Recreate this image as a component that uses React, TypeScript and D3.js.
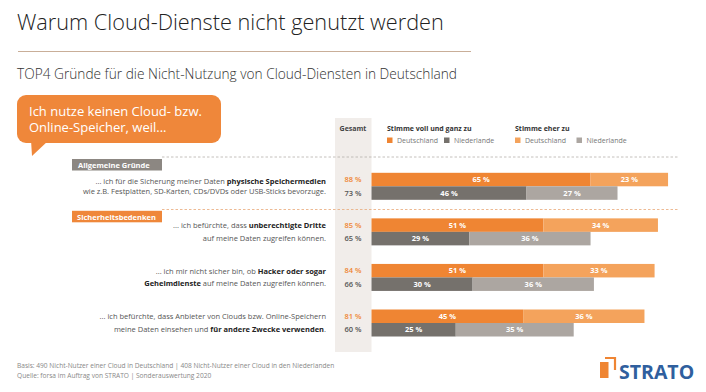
import React from "react";
import * as d3 from "d3";

const W = 706;
const H = 392;

const reasonLines: [string, boolean][][][] = [
  [
    [["... ich für die Sicherung meiner Daten ", false], ["physische Speichermedien", true]],
    [["wie z.B. Festplatten, SD-Karten, CDs/DVDs oder USB-Sticks bevorzuge.", false]],
  ],
  [
    [["... ich befürchte, dass ", false], ["unberechtigte Dritte", true]],
    [["auf meine Daten zugreifen können.", false]],
  ],
  [
    [["... ich mir nicht sicher bin, ob ", false], ["Hacker oder sogar", true]],
    [["Geheimdienste", true], [" auf meine Daten zugreifen können.", false]],
  ],
  [
    [["... ich befürchte, dass Anbieter von Clouds bzw. Online-Speichern", false]],
    [["meine Daten einsehen und ", false], ["für andere Zwecke verwenden", true], [".", false]],
  ],
];
const rowIds = ["speicher", "dritte", "hacker", "zwecke"];
const deVoll = [65, 51, 51, 45];
const deEher = [23, 34, 33, 36];
const nlVoll = [46, 29, 30, 25];
const nlEher = [27, 36, 36, 35];
const deTotal = [88, 85, 84, 81];
const nlTotal = [73, 65, 66, 60];

const C_DE1 = "#ef8533";
const C_DE2 = "#f4a35c";
const C_NL1 = "#75716c";
const C_NL2 = "#aca6a1";
const FONT = "'Open Sans', 'Noto Sans', sans-serif";

export default function App() {
  const x = d3.scaleLinear().domain([0, 100]).range([371.5, 708.5]);
  const y = d3.scalePoint<string>().domain(rowIds).range([186.3, 323]);
  const bh = 13.5;

  return (
    <svg
      width={W}
      height={H}
      style={{ position: "absolute", left: 0, top: 0, display: "block", background: "#fff" }}
      fontFamily={FONT}
    >
      <rect width={W} height={H} fill="#fff" />
      {/* Title */}
      <text x={17} y={30} fontSize={21.7} fill="#222" fontWeight={300}>
        Warum Cloud-Dienste nicht genutzt werden
      </text>
      <line x1={18} x2={471} y1={51.5} y2={51.5} stroke="#c9ae98" strokeWidth={1} />
      <text x={17} y={79} fontSize={13.7} fill="#333" fontWeight={300}>
        TOP4 Gründe für die Nicht-Nutzung von Cloud-Diensten in Deutschland
      </text>

      {/* Bubble */}
      <rect x={17} y={95} width={204} height={48} rx={9} fill="#ef873a" />
      <path d="M31,140 L49,140 L32,156 Z" fill="#ef873a" />
      <text x={29} y={116} fontSize={13} fill="#fff">
        <tspan x={29} y={116}>Ich nutze keinen Cloud- bzw.</tspan>
        <tspan x={29} y={131.5}>Online-Speicher, weil...</tspan>
      </text>

      {/* Gesamt panel */}
      <rect x={335} y={118} width={36.5} height={234} fill="#f1edea" />
      <text x={353} y={131} fontSize={7} fontWeight="bold" fill="#444" textAnchor="middle">
        Gesamt
      </text>

      {/* Legend */}
      <text x={387} y={131} fontSize={7} fontWeight="bold" fill="#333">
        Stimme voll und ganz zu
      </text>
      <text x={515} y={131} fontSize={7} fontWeight="bold" fill="#333">
        Stimme eher zu
      </text>
      {[
        { x: 387, c: C_DE1, t: "Deutschland" },
        { x: 444, c: C_NL1, t: "Niederlande" },
        { x: 515, c: C_DE2, t: "Deutschland" },
        { x: 576.5, c: C_NL2, t: "Niederlande" },
      ].map((l, i) => (
        <g key={i}>
          <rect x={l.x} y={137.5} width={5.5} height={5.5} fill={l.c} />
          <text x={l.x + 10} y={142.8} fontSize={7} fill="#777">
            {l.t}
          </text>
        </g>
      ))}

      {/* Dashed separators */}
      <line x1={162} x2={678} y1={157} y2={157} stroke="#b5b0ab" strokeWidth={0.8} strokeDasharray="2.5,2" />
      <line x1={162} x2={678} y1={209.5} y2={209.5} stroke="#e8a878" strokeWidth={0.8} strokeDasharray="2.5,2" />

      {/* Group labels */}
      <rect x={72} y={159} width={90} height={11.5} fill="#8c8782" />
      <text x={78} y={167.8} fontSize={7.5} fontWeight="bold" fill="#fff">
        Allgemeine Gründe
      </text>
      <rect x={72} y={210.8} width={90} height={11.5} fill="#ef873a" />
      <text x={77} y={219.5} fontSize={7.5} fontWeight="bold" fill="#fff">
        Sicherheitsbedenken
      </text>

      {/* Rows */}
      {rowIds.map((id, i) => {
        const cy = y(id) as number;
        const gap = i === 0 ? 10 : 12.5;
        const de1End = x(deVoll[i]);
        const de2End = x(deVoll[i] + deEher[i]);
        const nl1End = x(nlVoll[i]);
        const nl2End = x(nlVoll[i] + nlEher[i]);
        return (
          <g key={id}>
            {reasonLines[i].map((line, li) => (
              <text
                key={li}
                x={326}
                y={cy + (li === 0 ? -gap / 2 : gap / 2) + 2.6}
                fontSize={7.5}
                textAnchor="end"
                fill="#555"
              >
                {line.map(([t, b], k) => (
                  <tspan key={k} fontWeight={b ? "bold" : "normal"} fill={b ? "#222" : "#555"}>
                    {t}
                  </tspan>
                ))}
              </text>
            ))}
            <rect x={x(0)} y={cy - bh} width={de1End - x(0)} height={bh} fill={C_DE1} />
            <rect x={de1End} y={cy - bh} width={de2End - de1End} height={bh} fill={C_DE2} />
            <rect x={x(0)} y={cy} width={nl1End - x(0)} height={bh} fill={C_NL1} />
            <rect x={nl1End} y={cy} width={nl2End - nl1End} height={bh} fill={C_NL2} />
            {[
              { a: x(0), b: de1End, v: deVoll[i], yy: cy - bh / 2 },
              { a: de1End, b: de2End, v: deEher[i], yy: cy - bh / 2 },
              { a: x(0), b: nl1End, v: nlVoll[i], yy: cy + bh / 2 },
              { a: nl1End, b: nl2End, v: nlEher[i], yy: cy + bh / 2 },
            ].map((s, k) => (
              <text
                key={k}
                x={(s.a + s.b) / 2}
                y={s.yy + 2.7}
                fontSize={7.5}
                fontWeight="bold"
                fill="#fff"
                textAnchor="middle"
              >
                {s.v} %
              </text>
            ))}
            <text x={353} y={cy - bh / 2 + 2.7} fontSize={7.5} fill={C_DE1} textAnchor="middle" fontWeight="600">
              {deTotal[i]} %
            </text>
            <text x={353} y={cy + bh / 2 + 2.7} fontSize={7.5} fill="#555" textAnchor="middle" fontWeight="600">
              {nlTotal[i]} %
            </text>
          </g>
        );
      })}

      {/* Footer */}
      <text x={17} y={368} fontSize={6.6} fill="#888">
        Basis: 490 Nicht-Nutzer einer Cloud in Deutschland | 408 Nicht-Nutzer einer Cloud in den Niederlanden
      </text>
      <text x={17} y={377.5} fontSize={6.6} fill="#888">
        Quelle: forsa im Auftrag von STRATO | Sonderauswertung 2020
      </text>

      {/* Logo */}
      <rect x={600} y={362} width={8.5} height={16} fill="#ef8533" />
      <path d="M605,358 L615,358 L615,370" fill="none" stroke="#ef8533" strokeWidth={2.2} />
      <text x={619} y={379} fontSize={19.5} fontWeight="bold" fill="#2f5f9e">
        STRATO
      </text>
    </svg>
  );
}
